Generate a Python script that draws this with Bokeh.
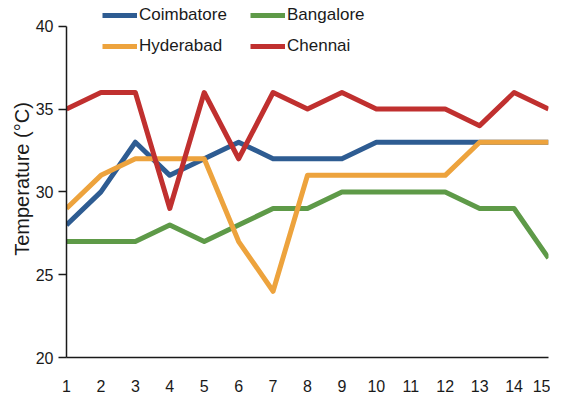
from bokeh.plotting import figure
from bokeh.models import Legend, LegendItem, FixedTicker, Range1d
from bokeh.embed import file_html
from bokeh.resources import INLINE

days = list(range(1, 16))
coimbatore = [28, 30, 33, 31, 32, 33, 32, 32, 32, 33, 33, 33, 33, 33, 33]
bangalore = [27, 27, 27, 28, 27, 28, 29, 29, 30, 30, 30, 30, 29, 29, 26]
hyderabad = [29, 31, 32, 32, 32, 27, 24, 31, 31, 31, 31, 31, 33, 33, 33]
chennai = [35, 36, 36, 29, 36, 32, 36, 35, 36, 35, 35, 35, 34, 36, 35]
y_ticks = [20, 25, 30, 35, 40]

series = [
    ("Coimbatore", coimbatore, "#2E5C92"),
    ("Bangalore", bangalore, "#5E9A48"),
    ("Hyderabad", hyderabad, "#EDA33D"),
    ("Chennai", chennai, "#C0302F"),
]

FONT = "Liberation Sans"

# frame spans the full top so the legend (above the 40 line) is not clipped
y_top = 40 + 26 / ((360 - 26) / 20)

p = figure(width=550, height=394, output_backend="svg", toolbar_location=None,
           x_range=Range1d(1, 15), y_range=Range1d(20, y_top),
           min_border_left=66, min_border_right=2, min_border_top=0, min_border_bottom=34)
p.outline_line_color = None
p.xgrid.visible = False
p.ygrid.visible = False
p.background_fill_color = "white"

items = []
for name, vals, color in series:
    r = p.line(days, vals, line_color=color, line_width=5, line_join="round")
    items.append(LegendItem(label=name, renderers=[r]))

p.xaxis.ticker = FixedTicker(ticks=days)
p.yaxis.ticker = FixedTicker(ticks=y_ticks)
p.yaxis.bounds = (20, 40)
for ax in (p.xaxis[0], p.yaxis[0]):
    ax.axis_line_color = "#1a1a1a"
    ax.axis_line_width = 1.5
    ax.major_tick_line_color = "#1a1a1a"
    ax.major_tick_line_width = 1.5
    ax.minor_tick_line_color = None
    ax.major_label_text_font = FONT
    ax.major_label_text_font_size = "16px"
    ax.major_label_text_color = "#1a1a1a"
p.xaxis.major_tick_line_color = None
p.xaxis.major_label_standoff = 16
p.yaxis.major_tick_out = 8
p.yaxis.major_tick_in = 0
p.yaxis.major_label_standoff = 5
p.yaxis.axis_label = "Temperature (°C)"
p.yaxis.axis_label_text_font = FONT
p.yaxis.axis_label_text_font_style = "normal"
p.yaxis.axis_label_text_font_size = "20px"
p.yaxis.axis_label_text_color = "#1a1a1a"
p.yaxis.axis_label_standoff = 0

legend = Legend(items=items, ncols=2, location=(36, 301), orientation="horizontal")
legend.border_line_color = None
legend.background_fill_alpha = 0
legend.padding = 0
legend.margin = 0
legend.spacing = 11
legend.glyph_width = 35
legend.glyph_height = 20
legend.label_height = 20
legend.label_width = 100
legend.label_standoff = 2
legend.label_text_font = FONT
legend.label_text_font_size = "17px"
legend.label_text_color = "#1a1a1a"
p.add_layout(legend, "center")

open("out.html", "w").write(file_html(p, INLINE))
